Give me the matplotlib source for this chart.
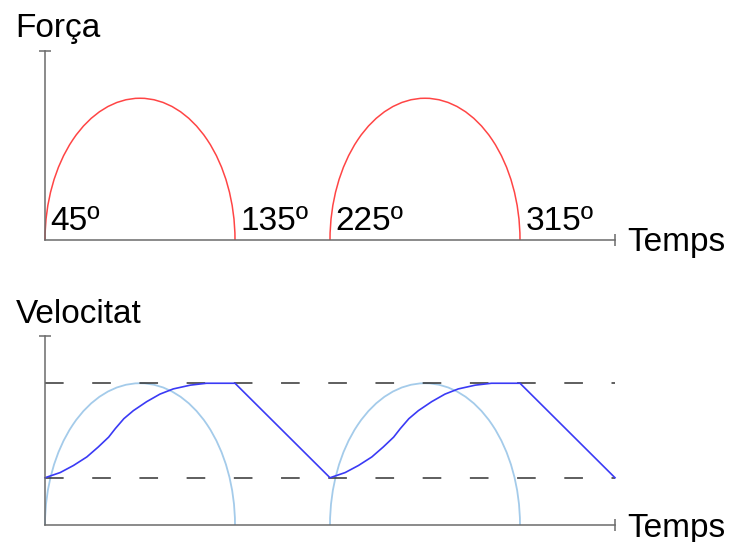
import matplotlib.pyplot as plt
from matplotlib.patches import Arc

plt.rcParams['font.family'] = ['Liberation Sans', 'DejaVu Sans']

# Força: semiel·lipses (inici, amplada, alçada)
arc_starts = [0, 3]
arc_span = 2
arc_peak = 3
angle_pos = [0, 2, 3, 5]
angle_labels = ['45º', '135º', '225º', '315º']

# Velocitat (dos cicles)
vel_t = [0, 0.16, 0.30, 0.44, 0.56, 0.67, 0.74, 0.83, 0.93, 1.07, 1.21, 1.35, 1.53, 1.70, 2.0,
         3.0, 3.16, 3.30, 3.44, 3.56, 3.67, 3.74, 3.83, 3.93, 4.07, 4.21, 4.35, 4.53, 4.70, 5.0,
         6.0]
vel_v = [1.0, 1.11, 1.26, 1.44, 1.65, 1.86, 2.04, 2.25, 2.42, 2.61, 2.77, 2.88, 2.96, 3.0, 3.0,
         1.0, 1.11, 1.26, 1.44, 1.65, 1.86, 2.04, 2.25, 2.42, 2.61, 2.77, 2.88, 2.96, 3.0, 3.0,
         1.0]
v_levels = [1, 3]

t_end = 6
y_end = 4

W, H = 729, 542
fig = plt.figure(figsize=(W / 100, H / 100), dpi=100)

axis_col = '#6b6b6b'


def make_axes(bottom_px):
    ax = fig.add_axes([45 / W, (H - bottom_px) / H, 570 / W, 189 / H])
    ax.set_xlim(0, t_end)
    ax.set_ylim(0, y_end)
    ax.patch.set_alpha(0)
    for s in ['top', 'right']:
        ax.spines[s].set_visible(False)
    for s in ['left', 'bottom']:
        ax.spines[s].set_color(axis_col)
        ax.spines[s].set_linewidth(1.1)
    ax.set_xticks([t_end])
    ax.set_yticks([y_end])
    ax.tick_params(direction='inout', length=9, width=1.1, color=axis_col,
                   labelbottom=False, labelleft=False)
    return ax


# Panell superior: Força
ax1 = make_axes(240)
for s in arc_starts:
    ax1.add_patch(Arc((s + arc_span / 2, 0), arc_span, 2 * arc_peak,
                      theta1=0, theta2=180, color='#ff4545', lw=1.1, clip_on=False))
for x, lab in zip(angle_pos, angle_labels):
    ax1.text(x + 0.06, 0.21, lab, fontsize=24, ha='left', va='baseline')

# Panell inferior: Velocitat
ax2 = make_axes(525)
for lv in v_levels:
    ax2.plot([0, t_end], [lv, lv], color='#333333', lw=1.1, dashes=(12.2, 18.7))
for s in arc_starts:
    ax2.add_patch(Arc((s + arc_span / 2, 0), arc_span, 2 * arc_peak,
                      theta1=0, theta2=180, color='#a4cbea', lw=1.3, clip_on=False))
ax2.plot(vel_t, vel_v, color='#3a3af5', lw=1.2, clip_on=False)

fig.text(15 / W, 1 - 37 / H, 'Força', fontsize=24, va='baseline')
fig.text(627 / W, 1 - 251 / H, 'Temps', fontsize=24, va='baseline')
fig.text(16 / W, 1 - 323 / H, 'Velocitat', fontsize=24, va='baseline')
fig.text(627 / W, 1 - 537 / H, 'Temps', fontsize=24, va='baseline')

fig.savefig('out.png', dpi=100)
